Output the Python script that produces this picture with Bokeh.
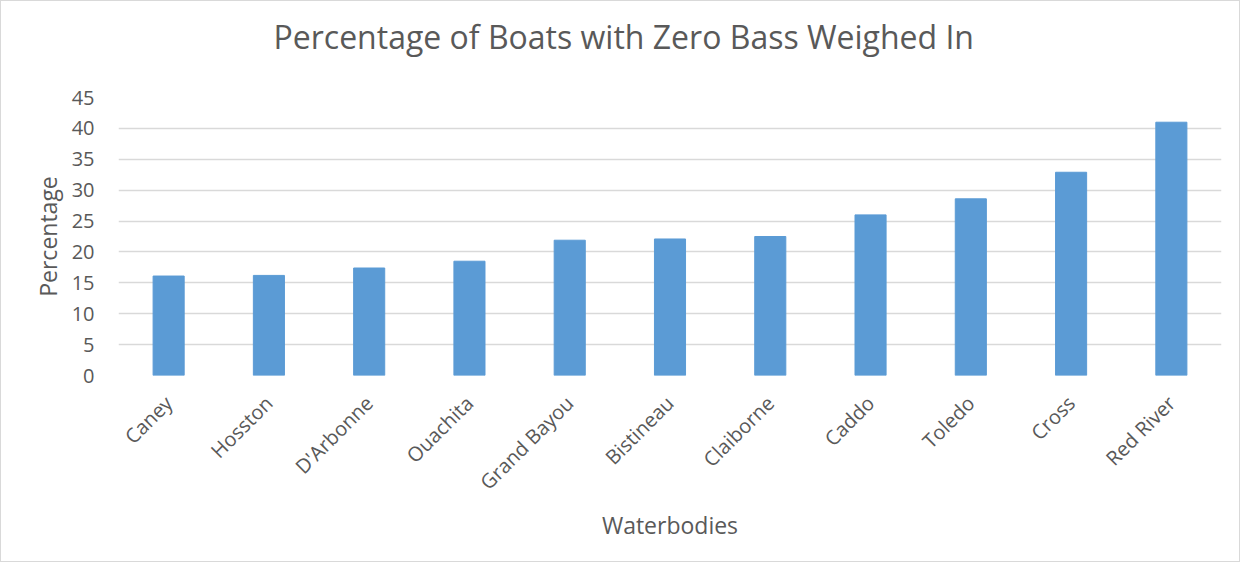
from bokeh.plotting import figure
from bokeh.models import FactorRange, Range1d, FixedTicker, ColumnDataSource, Title
from bokeh.embed import file_html
from bokeh.resources import INLINE
import math

categories = ["Caney", "Hosston", "D'Arbonne", "Ouachita", "Grand Bayou", "Bistineau",
              "Claiborne", "Caddo", "Toledo", "Cross", "Red River"]
percentages = [16.1, 16.2, 17.4, 18.5, 21.9, 22.1, 22.5, 26.0, 28.6, 32.9, 41.0]
y_ticks = [0, 5, 10, 15, 20, 25, 30, 35, 40, 45]
title_text = "Percentage of Boats with Zero Bass Weighed In"

TEXT = "#595959"
FONT = "Open Sans"

src = ColumnDataSource(dict(cat=categories, val=percentages))

p = figure(x_range=FactorRange(*categories, range_padding=0),
           y_range=Range1d(0, 45),
           width=1240, height=562,
           output_backend="svg", toolbar_location=None,
           min_border_left=117, min_border_right=20,
           min_border_top=96, min_border_bottom=188,
           title=title_text)

p.vbar(x="cat", top="val", width=0.31, source=src,
       fill_color="#5b9bd5", line_color="#5b9bd5")

p.title.align = "left"
p.title.offset = 155
p.title.standoff = 0
p.title.text_font = FONT
p.title.text_font_size = "32px"
p.title.text_font_style = "normal"
p.title.text_color = TEXT

# blank spacer between the plot frame and the chart title
p.add_layout(Title(text=" ", text_font=FONT, text_font_size="2px", standoff=35), "above")

p.outline_line_color = None
p.styles = {"border": "1px solid #d9d9d9"}

p.xgrid.grid_line_color = None
p.ygrid.grid_line_color = "#d9d9d9"
p.ygrid.grid_line_width = 1.5
p.ygrid.ticker = FixedTicker(ticks=y_ticks)

p.yaxis.ticker = FixedTicker(ticks=y_ticks)
for ax in (p.xaxis, p.yaxis):
    ax.axis_line_color = None
    ax.major_tick_line_color = None
    ax.minor_tick_line_color = None
    ax.major_label_text_font = FONT
    ax.major_label_text_font_size = "20px"
    ax.major_label_text_color = TEXT
    ax.axis_label_text_font = FONT
    ax.axis_label_text_font_size = "23px"
    ax.axis_label_text_font_style = "normal"
    ax.axis_label_text_color = TEXT

p.yaxis.axis_label = "Percentage"
p.yaxis.major_label_standoff = 18
p.yaxis.axis_label_standoff = 5

p.xaxis.axis_label = "Waterbodies"
p.xaxis.major_label_orientation = math.pi / 4
p.xaxis.major_label_standoff = 18
p.xaxis.axis_label_standoff = 1

open("out.html", "w").write(file_html(p, INLINE))
